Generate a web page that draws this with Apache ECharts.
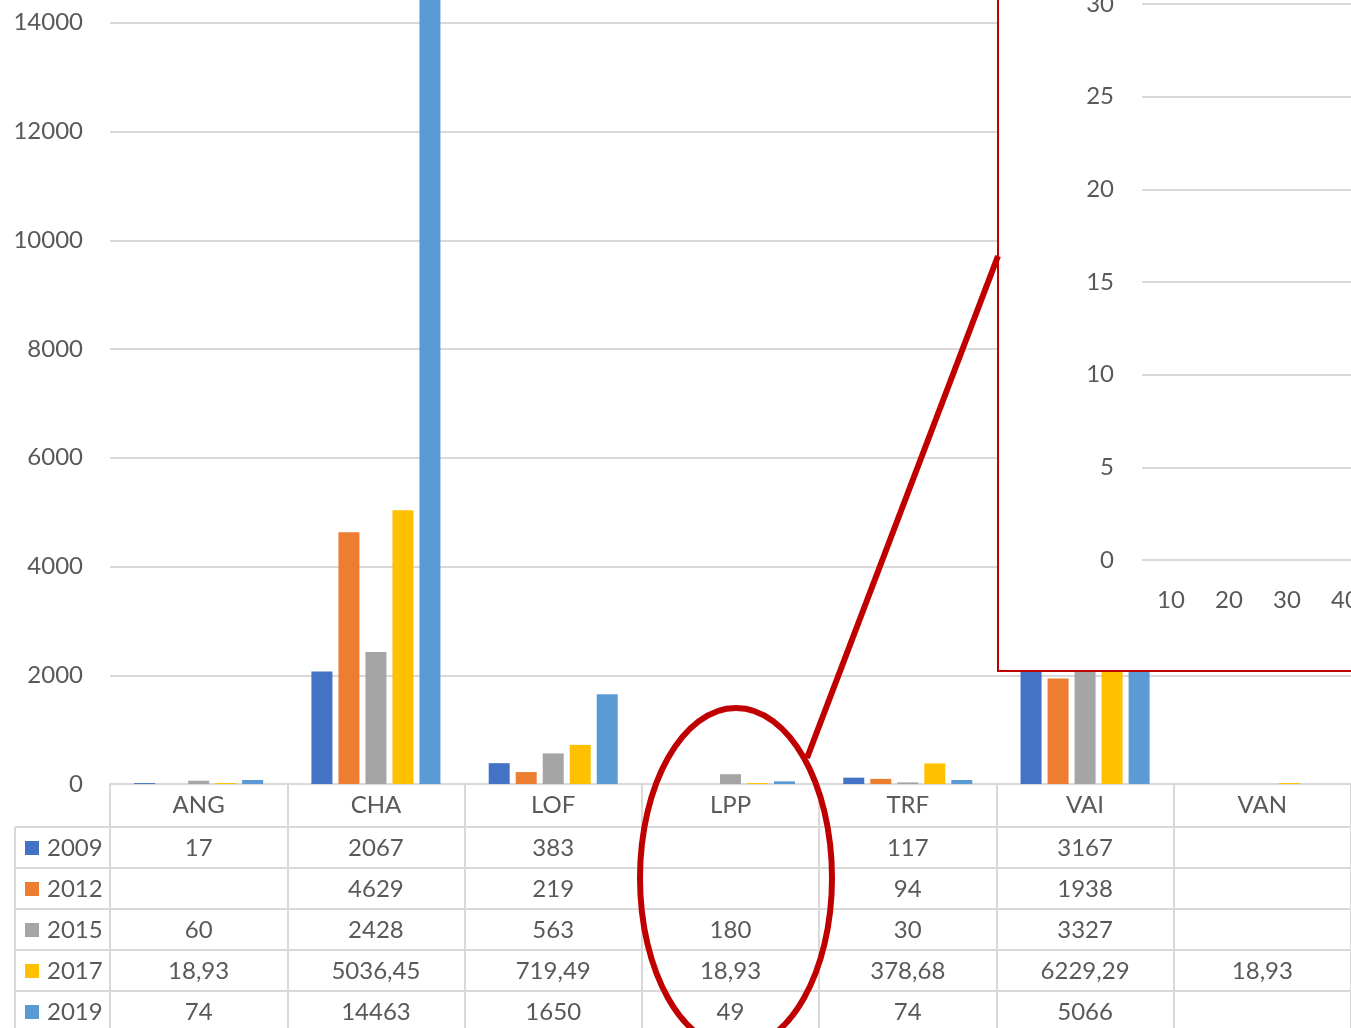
<!DOCTYPE html>
<html>
<head>
<meta charset="utf-8">
<script src="https://cdn.jsdelivr.net/npm/echarts@6/dist/echarts.min.js"></script>
<style>
  html, body { margin: 0; padding: 0; background: #fff; }
  #chart { width: 1351px; height: 1028px; }
</style>
</head>
<body>
<div id="chart"></div>
<script>
// values per year, one entry per site (null = empty cell)
const sites = ['ANG', 'CHA', 'LOF', 'LPP', 'TRF', 'VAI', 'VAN'];
const years = ['2009', '2012', '2015', '2017', '2019'];
const v2009 = [17, 2067, 383, null, 117, 3167, null];
const v2012 = [null, 4629, 219, null, 94, 1938, null];
const v2015 = [60, 2428, 563, 180, 30, 3327, null];
const v2017 = [18.93, 5036.45, 719.49, 18.93, 378.68, 6229.29, 18.93];
const v2019 = [74, 14463, 1650, 49, 74, 5066, null];
const rows = [v2009, v2012, v2015, v2017, v2019];
const colors = ['#4472C4', '#ED7D31', '#A5A5A5', '#FFC000', '#5B9BD5'];
// zoom inset axis ticks
const zoomX = ['10', '20', '30', '40', '50', '60'];

const FONT = 'Lato';
const TXT = '#595959';
const LINE = '#d9d9d9';
const RED = '#C00000';

const fmt = (v) => {
  if (v == null) return '';
  return Number.isInteger(v) ? String(v) : v.toFixed(2).replace('.', ',');
};

const chart = echarts.init(document.getElementById('chart'), null, { renderer: 'canvas' });

// header axis + one axis per table row
const xAxes = [{
  type: 'category',
  gridIndex: 0,
  data: sites,
  position: 'bottom',
  axisLine: { lineStyle: { color: LINE, width: 2 } },
  axisTick: { show: true, interval: 0, length: 43, lineStyle: { color: LINE, width: 2 } },
  axisLabel: { interval: 0, margin: 21, verticalAlign: 'middle', fontFamily: FONT, fontSize: 24, color: TXT }
}];
rows.forEach((row, i) => {
  xAxes.push({
    type: 'category',
    gridIndex: 0,
    data: sites,
    position: 'bottom',
    offset: 43 + 41 * i,
    axisLine: { lineStyle: { color: LINE, width: 2 } },
    axisTick: { show: true, interval: 0, length: 41, lineStyle: { color: LINE, width: 2 } },
    axisLabel: {
      interval: 0, margin: 21, verticalAlign: 'middle',
      fontFamily: FONT, fontSize: 24, color: TXT,
      formatter: (val, idx) => fmt(row[idx])
    }
  });
});
xAxes.push({
  type: 'category',
  gridIndex: 1,
  data: zoomX,
  z: 6,
  axisLine: { show: false },
  axisTick: { show: false },
  axisLabel: { interval: 0, margin: 40, verticalAlign: 'middle', fontFamily: FONT, fontSize: 24, color: TXT }
});

const series = years.map((y, i) => ({
  name: y,
  type: 'bar',
  xAxisIndex: 0,
  yAxisIndex: 0,
  data: rows[i],
  barWidth: 21,
  barGap: '28.6%',
  itemStyle: { color: colors[i] }
}));

// legend column borders of the data table
const tableLines = [{ type: 'line', shape: { x1: 15, y1: 827, x2: 15, y2: 1028 }, style: { stroke: LINE, lineWidth: 2 } }];
for (let i = 0; i < 5; i++) {
  const y = 827 + 41 * i;
  tableLines.push({ type: 'line', shape: { x1: 15, y1: y, x2: 110, y2: y }, style: { stroke: LINE, lineWidth: 2 } });
}

chart.setOption({
  animation: false,
  backgroundColor: '#fff',
  textStyle: { fontFamily: FONT },
  grid: [
    { left: 110, right: 0, top: -86, bottom: 244, outerBoundsMode: 'none' },
    { left: 1142, right: -139, top: 4, bottom: 468, outerBoundsMode: 'none' }
  ],
  legend: {
    orient: 'vertical',
    left: 25,
    top: 836,
    padding: 0,
    itemGap: 17,
    itemWidth: 14,
    itemHeight: 14,
    icon: 'rect',
    selectedMode: false,
    data: years,
    textStyle: { fontFamily: FONT, fontSize: 24, lineHeight: 24, color: TXT, padding: [0, 0, 0, 3] }
  },
  xAxis: xAxes,
  yAxis: [{
    type: 'value',
    gridIndex: 0,
    min: 0,
    max: 16000,
    interval: 2000,
    axisLine: { show: false },
    axisTick: { show: false },
    axisLabel: { margin: 27, fontFamily: FONT, fontSize: 24, color: TXT, formatter: (v) => String(v) },
    splitLine: { lineStyle: { color: LINE, width: 2 } }
  }, {
    type: 'value',
    gridIndex: 1,
    min: 0,
    max: 30,
    interval: 5,
    z: 6,
    axisLine: { show: false },
    axisTick: { show: false },
    axisLabel: { margin: 28, fontFamily: FONT, fontSize: 24, color: TXT },
    splitLine: { lineStyle: { color: LINE, width: 2 } }
  }],
  series: series,
  graphic: tableLines.concat([
    // zoom inset box
    { type: 'rect', z: 5, shape: { x: 998, y: -10, width: 420, height: 681 }, style: { fill: '#fff', stroke: RED, lineWidth: 2 } },
    // ellipse round LPP and pointer
    { type: 'ellipse', z: 10, shape: { cx: 736, cy: 878, rx: 96, ry: 170 }, style: { fill: null, stroke: RED, lineWidth: 6 } },
    { type: 'line', z: 10, shape: { x1: 807, y1: 758, x2: 998, y2: 256 }, style: { stroke: RED, lineWidth: 6 } }
  ])
});
</script>
</body>
</html>
